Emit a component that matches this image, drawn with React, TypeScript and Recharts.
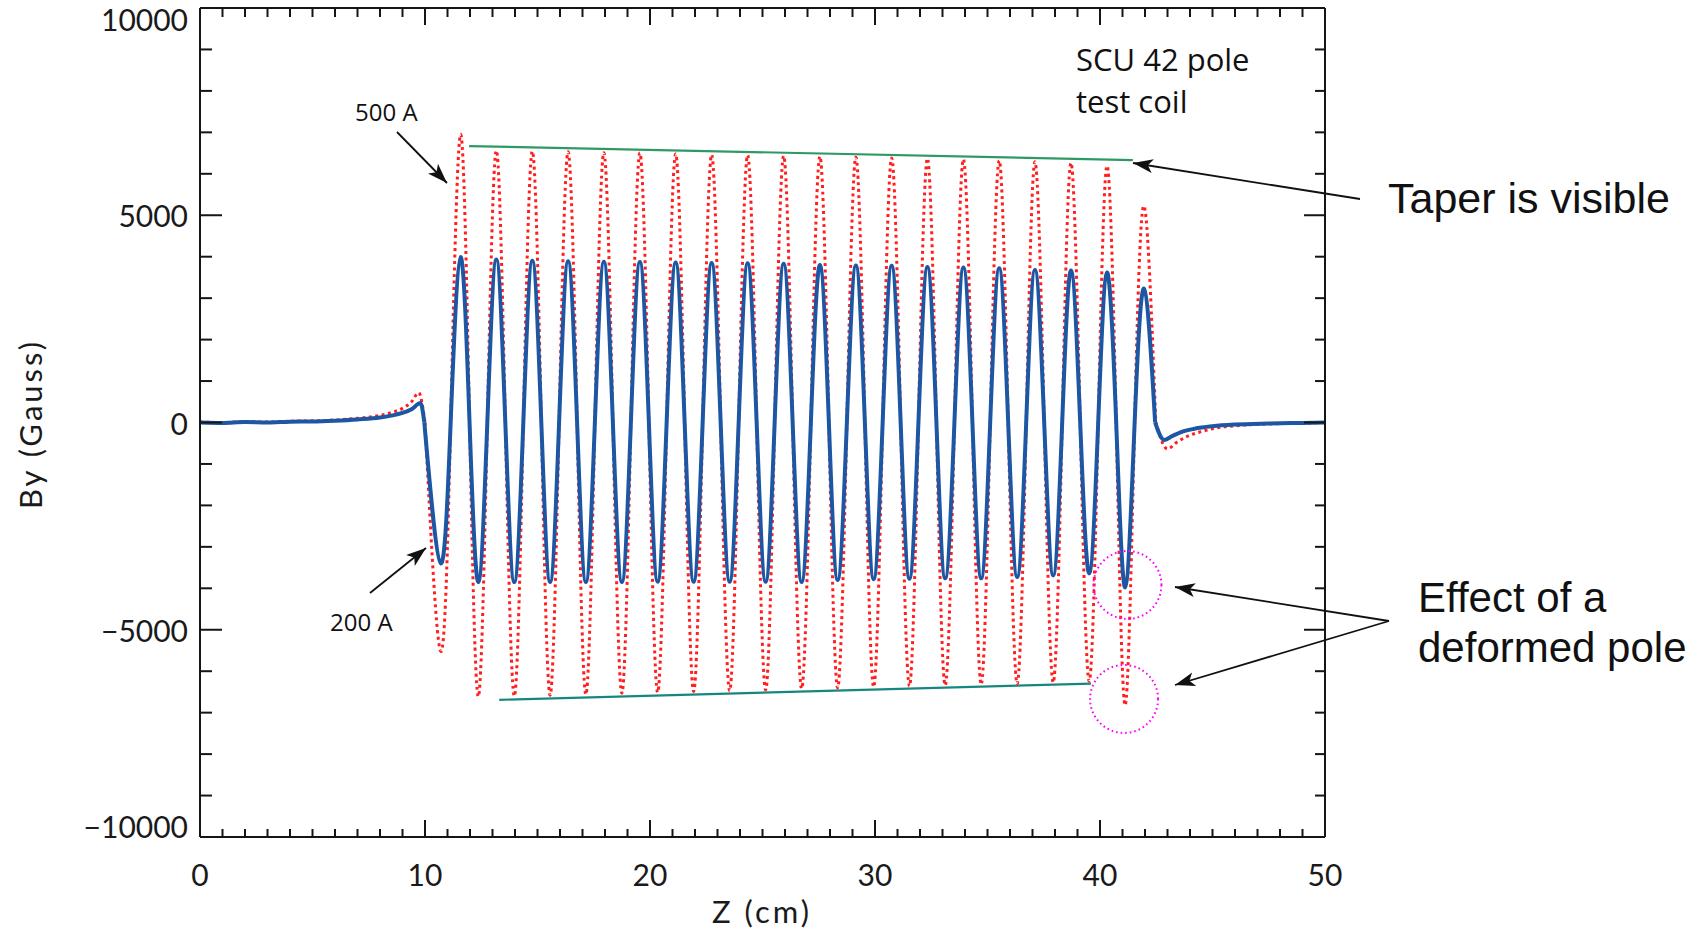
import React from 'react';
import { LineChart, Line, XAxis, YAxis, ReferenceLine, ReferenceDot } from 'recharts';

// ---- data (Z in cm, By in Gauss) ----
const xLabels = [0, 10, 20, 30, 40, 50];
const yLabels = [-10000, -5000, 0, 5000, 10000];
const xTickPos = Array.from({ length: 51 }, (_, i) => i);
const yTickPos = Array.from({ length: 21 }, (_, i) => -10000 + i * 1000);

// pole positions inside the undulator
const peakZ = [11.58, 13.17, 14.77, 16.36, 17.95, 19.55, 21.14, 22.74, 24.34, 25.94, 27.55, 29.15, 30.74, 32.33, 33.93, 35.52, 37.11, 38.71, 40.31, 41.96];
const troughZ = [10.7, 12.37, 13.97, 15.56, 17.15, 18.75, 20.34, 21.94, 23.54, 25.14, 26.74, 28.34, 29.94, 31.53, 33.12, 34.72, 36.32, 37.92, 39.52, 41.12];
const crossZ = [11.14, 11.98, 12.77, 13.57, 14.37, 15.17, 15.96, 16.76, 17.55, 18.35, 19.15, 19.95, 20.74, 21.54, 22.34, 23.14, 23.94, 24.74, 25.54, 26.34, 27.15, 27.95, 28.75, 29.55, 30.34, 31.14, 31.93, 32.73, 33.53, 34.33, 35.12, 35.92, 36.72, 37.52, 38.32, 39.12, 39.92, 40.72, 41.54];

// 200 A (blue)
const bluePeaks = [3990, 3930, 3900, 3890, 3880, 3870, 3860, 3850, 3840, 3830, 3800, 3790, 3780, 3750, 3740, 3720, 3680, 3670, 3620, 3230];
const blueTroughs = [-3400, -3850, -3850, -3850, -3850, -3850, -3840, -3840, -3840, -3840, -3850, -3800, -3780, -3770, -3760, -3760, -3730, -3690, -3640, -3980];
const blueEntry = [[0, 0], [1, -10], [2, 10], [3, 0], [4, 20], [5, 25], [6, 45], [7, 75], [8, 120], [8.5, 165], [9, 230], [9.4, 320], [9.8, 470], [9.97, 0]];
const blueExit = [[42.45, 0], [42.85, -420], [43.2, -330], [43.6, -230], [44.2, -150], [45, -90], [46, -50], [47.5, -25], [49, -10], [50, 0]];

// 500 A (red, dotted)
const redPeaks = [6950, 6560, 6545, 6530, 6510, 6500, 6480, 6460, 6450, 6430, 6420, 6400, 6380, 6370, 6350, 6320, 6290, 6260, 6190, 5220];
const redTroughs = [-5520, -6610, -6600, -6580, -6560, -6530, -6510, -6490, -6470, -6450, -6420, -6400, -6380, -6360, -6340, -6320, -6300, -6270, -6240, -6820];
const redEntry = [[0, 10], [1, 0], [2, 20], [3, 10], [4, 30], [5, 40], [6, 60], [7, 100], [8, 170], [8.5, 240], [9, 340], [9.4, 500], [9.72, 720], [10.0, 0]];
const redExit = [[42.48, 0], [43.0, -640], [43.4, -480], [43.9, -330], [44.5, -220], [45.2, -130], [46.2, -70], [47.5, -35], [49, -15], [50, 0]];

// taper guide lines and deformed-pole markers
const taperTop = [{ x: 11.96, y: 6670 }, { x: 41.46, y: 6330 }];
const taperBottom = [{ x: 13.3, y: -6690 }, { x: 39.6, y: -6300 }];
const deformedSpots = [{ z: 41.22, by: -3920 }, { z: 41.07, by: -6670 }];

const toRows = (pts: number[][]) => pts.map(([z, by]) => ({ z, by }));
const buildWave = (start: number, end: number, peaks: number[], troughs: number[]) => {
  const pts: number[][] = [[start, 0], [end, 0]];
  crossZ.forEach(z => pts.push([z, 0]));
  peakZ.forEach((z, i) => pts.push([z, peaks[i]]));
  troughZ.forEach((z, i) => pts.push([z, troughs[i]]));
  return toRows(pts.sort((a, b) => a[0] - b[0]));
};

const blueWave = buildWave(9.97, 42.45, bluePeaks, blueTroughs);
const redWave = buildWave(10.0, 42.48, redPeaks, redTroughs);

const AX = '#151515';
const tickFont = { fontFamily: 'Lato, "DejaVu Sans", sans-serif', fontWeight: 400, fontSize: 30, fill: '#1a1a1a' };
const titleFont = { ...tickFont, fontSize: 31, letterSpacing: 3 };

const fmt = (v: number) => (v < 0 ? '\u2212' + Math.abs(v) : String(v));

const BottomTick = (props: any) => {
  const { x, y, payload } = props;
  const v = payload.value;
  const major = xLabels.includes(v);
  return (
    <g>
      <line x1={x} x2={x} y1={y} y2={y - (major ? 17 : 8)} stroke={AX} strokeWidth={2} />
      {major && (
        <text x={x} y={y + 37} textAnchor="middle" dominantBaseline="central" {...tickFont}>{v}</text>
      )}
    </g>
  );
};

const TopTick = (props: any) => {
  const { x, y, payload } = props;
  const major = xLabels.includes(payload.value);
  return <line x1={x} x2={x} y1={y} y2={y + (major ? 17 : 9)} stroke={AX} strokeWidth={2} />;
};

const LeftTick = (props: any) => {
  const { x, y, payload } = props;
  const v = payload.value;
  const major = yLabels.includes(v);
  const shift = v === 10000 ? 11 : v === -10000 ? -11 : 0;
  return (
    <g>
      <line x1={x} x2={x + (major ? 22 : 12)} y1={y} y2={y} stroke={AX} strokeWidth={2} />
      {major && (
        <text x={x - 12} y={y + shift} textAnchor="end" dominantBaseline="central" {...tickFont}>{fmt(v)}</text>
      )}
    </g>
  );
};

const RightTick = (props: any) => {
  const { x, y, payload } = props;
  const major = yLabels.includes(payload.value);
  return <line x1={x} x2={x - (major ? 21 : 10)} y1={y} y2={y} stroke={AX} strokeWidth={2} />;
};

const Arrow = ({ x1, y1, x2, y2 }: { x1: number; y1: number; x2: number; y2: number }) => (
  <line x1={x1} y1={y1} x2={x2} y2={y2} stroke="#111" strokeWidth={1.8} markerEnd="url(#head)" />
);

const annFont = { fontFamily: '"Open Sans", sans-serif', fill: '#111' };
const bigFont = { fontFamily: '"Liberation Sans", Arial, sans-serif', fontSize: 42, fill: '#111' };

export default function App() {
  return (
    <div style={{ position: 'absolute', left: 0, top: 0, width: 1703, height: 930, background: '#fff' }}>
      <LineChart width={1703} height={930} margin={{ top: 7, right: 377, bottom: 0, left: 0 }}>
        <XAxis xAxisId="b" dataKey="z" type="number" domain={[0, 50]} ticks={xTickPos} interval={0}
          height={93} tickSize={0} tickMargin={0} axisLine={{ stroke: AX, strokeWidth: 2 }}
          tickLine={false} tick={<BottomTick />} allowDataOverflow />
        <XAxis xAxisId="t" orientation="top" dataKey="z" type="number" domain={[0, 50]} ticks={xTickPos} interval={0}
          height={1} tickSize={0} tickMargin={0} axisLine={{ stroke: AX, strokeWidth: 2 }}
          tickLine={false} tick={<TopTick />} allowDataOverflow />
        <YAxis yAxisId="l" type="number" domain={[-10000, 10000]} ticks={yTickPos} interval={0}
          width={200} tickSize={0} tickMargin={0} axisLine={{ stroke: AX, strokeWidth: 2 }}
          tickLine={false} tick={<LeftTick />} allowDataOverflow />
        <YAxis yAxisId="r" orientation="right" type="number" domain={[-10000, 10000]} ticks={yTickPos} interval={0}
          width={1} tickSize={0} tickMargin={0} axisLine={{ stroke: AX, strokeWidth: 2 }}
          tickLine={false} tick={<RightTick />} allowDataOverflow />

        <ReferenceLine xAxisId="b" yAxisId="l" segment={taperTop} stroke="#2e9a63" strokeWidth={2.2} ifOverflow="visible" />
        <ReferenceLine xAxisId="b" yAxisId="l" segment={taperBottom} stroke="#16877f" strokeWidth={2.2} ifOverflow="visible" />

        <Line xAxisId="b" yAxisId="l" data={toRows(redEntry)} dataKey="by" type="monotone" stroke="#ff1f1f"
          strokeWidth={3} strokeDasharray="3 3.5" dot={false} isAnimationActive={false} />
        <Line xAxisId="b" yAxisId="l" data={redWave} dataKey="by" type="natural" stroke="#ff1f1f"
          strokeWidth={3} strokeDasharray="3 3.5" dot={false} isAnimationActive={false} />
        <Line xAxisId="b" yAxisId="l" data={toRows(redExit)} dataKey="by" type="monotone" stroke="#ff1f1f"
          strokeWidth={3} strokeDasharray="3 3.5" dot={false} isAnimationActive={false} />

        <Line xAxisId="b" yAxisId="l" data={toRows(blueEntry)} dataKey="by" type="monotone" stroke="#1d57a3"
          strokeWidth={4} dot={false} isAnimationActive={false} />
        <Line xAxisId="b" yAxisId="l" data={blueWave} dataKey="by" type="natural" stroke="#1d57a3"
          strokeWidth={4} dot={false} isAnimationActive={false} />
        <Line xAxisId="b" yAxisId="l" data={toRows(blueExit)} dataKey="by" type="monotone" stroke="#1d57a3"
          strokeWidth={4} dot={false} isAnimationActive={false} />

        {deformedSpots.map((d, i) => (
          <ReferenceDot key={i} xAxisId="b" yAxisId="l" x={d.z} y={d.by} r={34} fill="none"
            stroke="#ff00ff" strokeWidth={2} strokeDasharray="1.6 3" ifOverflow="visible" />
        ))}
      </LineChart>

      <svg width={1703} height={930} style={{ position: 'absolute', left: 0, top: 0, pointerEvents: 'none' }}>
        <defs>
          <marker id="head" markerUnits="userSpaceOnUse" markerWidth={24} markerHeight={16} refX={20} refY={7} orient="auto">
            <path d="M0,0 L20,7 L0,14 L5,7 z" fill="#111" />
          </marker>
        </defs>
        <text x={30} y={424} transform="rotate(-90 30 424)" textAnchor="middle" dominantBaseline="central" {...titleFont}>By  (Gauss)</text>
        <text x={762} y={911} textAnchor="middle" dominantBaseline="central" {...titleFont}>Z  (cm)</text>

        <text x={1076} y={71} fontSize={31} fontWeight={500} {...annFont}>SCU 42 pole</text>
        <text x={1076} y={113} fontSize={31} fontWeight={500} {...annFont}>test coil</text>

        <text x={355} y={121} fontSize={24} fontWeight={500} {...annFont}>500 A</text>
        <Arrow x1={397} y1={132} x2={447} y2={183} />
        <text x={330} y={631} fontSize={24} fontWeight={500} {...annFont}>200 A</text>
        <Arrow x1={370} y1={593} x2={426} y2={548} />

        <text x={1388} y={213} {...bigFont} fontSize={43}>Taper is visible</text>
        <Arrow x1={1360} y1={199} x2={1133} y2={163} />

        <text x={1418} y={612} {...bigFont}>Effect of a</text>
        <text x={1418} y={662} {...bigFont}>deformed pole</text>
        <Arrow x1={1389} y1={621} x2={1175} y2={587} />
        <Arrow x1={1389} y1={621} x2={1175} y2={685} />
      </svg>
    </div>
  );
}
